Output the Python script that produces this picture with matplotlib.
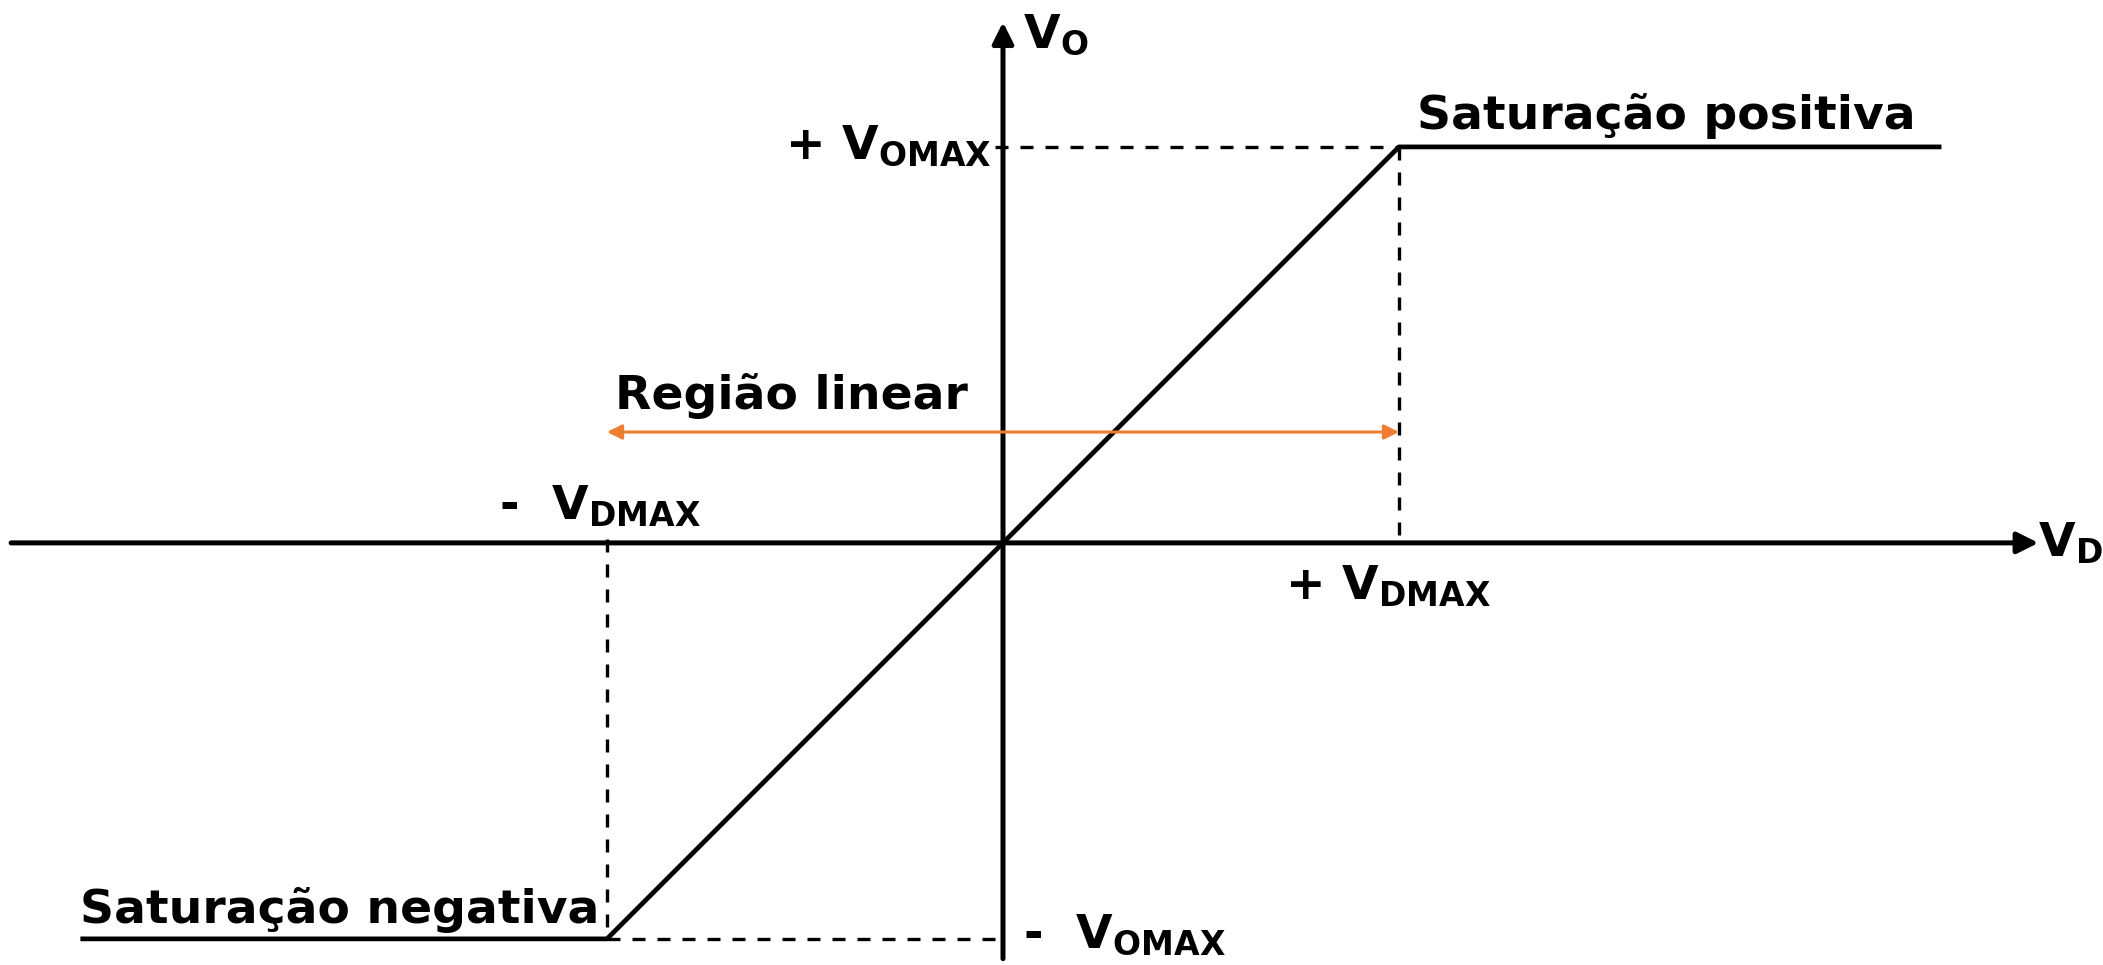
import matplotlib
matplotlib.use("Agg")
import matplotlib.pyplot as plt

# unidades normalizadas: VDMAX = 1, VOMAX = 1
vd = [-2.33, -1.0, 1.0, 2.37]   # tensão diferencial de entrada
vo = [-1.0, -1.0, 1.0, 1.0]     # tensão de saída
vd_max = 1.0
vo_max = 1.0
regiao_y = 0.28                 # altura da seta "Região linear"

eixo_x = (-2.505, 2.615)
eixo_y = (-1.05, 1.315)

plt.rcParams['font.family'] = ['DejaVu Sans']
plt.rcParams['mathtext.fontset'] = 'custom'
plt.rcParams['mathtext.bf'] = 'DejaVu Sans:bold'
plt.rcParams['mathtext.rm'] = 'DejaVu Sans:bold'

fig = plt.figure(figsize=(21.03, 9.65), dpi=100)
ax = fig.add_axes([0, 0, 1, 1])
ax.set_xlim(-2.533, 2.778)
ax.set_ylim(-1.066, 1.371)
ax.axis('off')

# eixos com setas
ax.annotate('', xy=(eixo_x[1], 0), xytext=(eixo_x[0], 0),
            arrowprops=dict(arrowstyle='-|>', lw=3.6, color='black',
                            mutation_scale=32, shrinkA=0, shrinkB=0))
ax.annotate('', xy=(0, eixo_y[1]), xytext=(0, eixo_y[0]),
            arrowprops=dict(arrowstyle='-|>', lw=3.6, color='black',
                            mutation_scale=32, shrinkA=0, shrinkB=0))

# curva de transferência
ax.plot(vd, vo, color='black', lw=3.4, solid_capstyle='butt', zorder=3)

# linhas tracejadas
ls = (0, (3.9, 3.6))
ax.plot([-0.02, vd_max], [vo_max, vo_max], color='black', lw=2.4, ls=ls)
ax.plot([vd_max, vd_max], [vo_max, 0], color='black', lw=2.4, ls=ls)
ax.plot([-vd_max, -vd_max], [0.01, -vo_max], color='black', lw=2.4, ls=ls)
ax.plot([-vd_max, 0], [-vo_max, -vo_max], color='black', lw=2.4, ls=ls)

# seta da região linear
ax.annotate('', xy=(vd_max, regiao_y), xytext=(-vd_max, regiao_y),
            arrowprops=dict(arrowstyle='<|-|>', lw=2.2, color='#ED7D31',
                            mutation_scale=22, shrinkA=0, shrinkB=0))

fs = 34
kw = dict(fontsize=fs, fontweight='bold', color='black', va='baseline')
ax.text(1.045, 1.045, 'Saturação positiva', ha='left', **kw)
ax.text(-2.33, -0.96, 'Saturação negativa', ha='left', **kw)
ax.text(-0.98, 0.338, 'Região linear', ha='left', **kw)

ax.text(-0.03, 0.97, r'+ $\mathbf{V}_{\mathbf{OMAX}}$', ha='right', **kw)
ax.text(-1.273, 0.058, r'-  $\mathbf{V}_{\mathbf{DMAX}}$', ha='left', **kw)
ax.text(0.712, -0.142, r'+ $\mathbf{V}_{\mathbf{DMAX}}$', ha='left', **kw)
ax.text(0.05, -1.023, r'-  $\mathbf{V}_{\mathbf{OMAX}}$', ha='left', **kw)
ax.text(0.05, 1.25, r'$\mathbf{V}_{\mathbf{O}}$', ha='left', **kw)
ax.text(2.615, -0.035, r'$\mathbf{V}_{\mathbf{D}}$', ha='left', **kw)

fig.savefig('out.png', dpi=100)
